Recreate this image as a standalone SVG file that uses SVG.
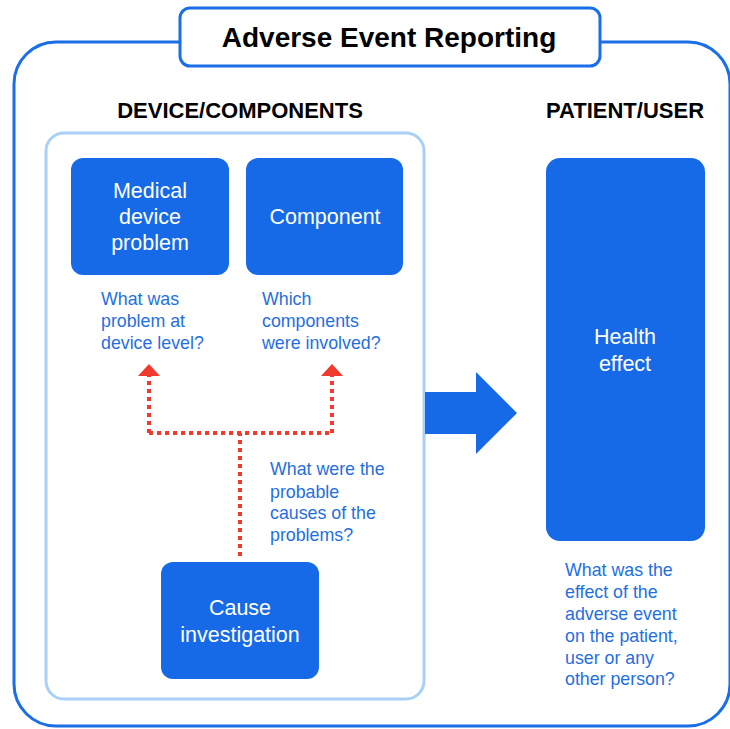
<svg xmlns="http://www.w3.org/2000/svg" width="730" height="729" viewBox="0 0 730 729">
<defs>
<style>
.box{fill:#166AE8;}
.wt{fill:#fff;font-family:"Liberation Sans",Arial,sans-serif;font-size:21.5px;text-anchor:middle;}
.q{fill:#1F6FE2;font-family:"Liberation Sans",Arial,sans-serif;font-size:17.8px;}
.hd{fill:#000;font-family:"Liberation Sans",Arial,sans-serif;font-weight:bold;font-size:22px;text-anchor:middle;}
.dot{fill:none;stroke:#F03A2E;stroke-width:4;stroke-dasharray:4 4;}
</style>
</defs>
<rect x="0" y="0" width="730" height="729" fill="#fff"/>
<g id="frame">
<rect x="14" y="42" width="716" height="684" rx="42" fill="#fff" stroke="#1A6FE8" stroke-width="3"/>
</g>
<g id="title">
<rect x="180" y="8" width="420" height="58" rx="10" fill="#fff" stroke="#1A6FE8" stroke-width="3"/>
<text x="389" y="47" style="font-family:'Liberation Sans',Arial,sans-serif;font-weight:bold;font-size:28px;text-anchor:middle;">Adverse Event Reporting</text>
</g>
<text class="hd" x="240" y="118">DEVICE/COMPONENTS</text>
<text class="hd" x="625" y="118">PATIENT/USER</text>
<g id="device-components">
<rect x="46" y="133" width="378" height="566" rx="18" fill="#fff" stroke="#A9D0F5" stroke-width="3"/>
</g>
<g id="connectors">
<path class="dot" d="M240,556 V433"/>
<path class="dot" d="M149,433 H332"/>
<path class="dot" d="M149,433 V376"/>
<path class="dot" d="M332,433 V376"/>
<path d="M138,376 L149,364 L160,376 z" fill="#F03A2E"/>
<path d="M321,376 L332,364 L343,376 z" fill="#F03A2E"/>
<path d="M425,392 H476 V372 L517,413 L476,454 V434 H425 z" fill="#166AE8"/>
</g>
<g id="medical-device-problem">
<rect class="box" x="71" y="158" width="158" height="117" rx="12"/>
<text class="wt" x="150" y="198">Medical</text>
<text class="wt" x="150" y="224">device</text>
<text class="wt" x="150" y="250">problem</text>
<text class="q" x="101" y="305">What was</text>
<text class="q" x="101" y="327">problem at</text>
<text class="q" x="101" y="349">device level?</text>
</g>
<g id="component">
<rect class="box" x="246" y="158" width="157" height="117" rx="12"/>
<text class="wt" x="325" y="224">Component</text>
<text class="q" x="262" y="305">Which</text>
<text class="q" x="262" y="327">components</text>
<text class="q" x="262" y="349">were involved?</text>
</g>
<g id="cause-investigation">
<rect class="box" x="161" y="562" width="158" height="117" rx="12"/>
<text class="wt" x="240" y="615">Cause</text>
<text class="wt" x="240" y="642">investigation</text>
<text class="q" x="270" y="475">What were the</text>
<text class="q" x="270" y="498">probable</text>
<text class="q" x="270" y="519">causes of the</text>
<text class="q" x="270" y="541">problems?</text>
</g>
<g id="health-effect">
<rect class="box" x="546" y="158" width="159" height="383" rx="14"/>
<text class="wt" x="625" y="344">Health</text>
<text class="wt" x="625" y="371">effect</text>
<text class="q" x="565" y="576">What was the</text>
<text class="q" x="565" y="598">effect of the</text>
<text class="q" x="565" y="620">adverse event</text>
<text class="q" x="565" y="642">on the patient,</text>
<text class="q" x="565" y="664">user or any</text>
<text class="q" x="565" y="685">other person?</text>
</g>
</svg>
